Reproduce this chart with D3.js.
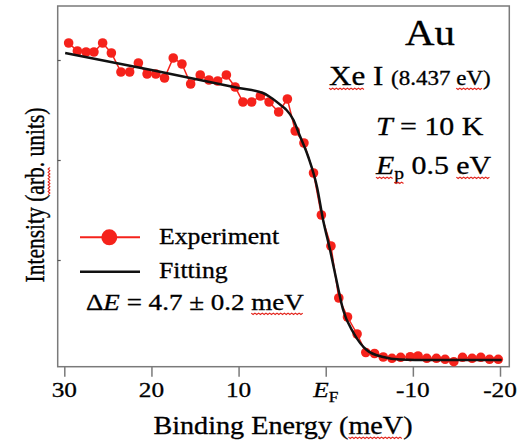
<!DOCTYPE html>
<html>
<head>
<meta charset="utf-8">
<script src="https://cdn.jsdelivr.net/npm/d3@7"></script>
<style>
  body { margin: 0; background: #fff; }
  svg text { font-family: "Liberation Serif", "Times New Roman", serif; fill: #000; stroke: #000; stroke-width: 0.3px; }
</style>
</head>
<body>
<svg id="chart" width="524" height="442"></svg>
<script>
// binding energy (meV) and intensity (arb. units)
var energy = [29.5, 28.5, 27.5, 26.6, 25.6, 24.6, 23.5, 22.5, 21.5, 20.5,
  19.5, 18.5, 17.5, 16.5, 15.5, 14.4, 13.4, 12.4, 11.4, 10.4,
  9.5, 8.5, 7.5, 6.5, 5.4, 4.4, 3.5, 2.5, 1.4, 0.5,
  -0.6, -1.5, -2.5, -3.6, -4.6, -5.6, -6.6, -7.6, -8.6, -9.7,
  -10.6, -11.6, -12.7, -13.7, -14.7, -15.7, -16.8, -17.8, -18.8, -19.8];
var intensity = [3.17, 3.09, 3.08, 3.08, 3.17, 3.07, 2.88, 2.88, 2.97, 2.86,
  2.86, 2.82, 3.02, 2.96, 2.76, 2.85, 2.80, 2.79, 2.85, 2.73,
  2.58, 2.58, 2.64, 2.58, 2.48, 2.61, 2.29, 2.17, 1.87, 1.45,
  1.14, 0.62, 0.43, 0.26, 0.075, 0.065, 0.03, 0.017, 0.027, 0.033,
  0.04, 0.017, 0.017, 0.007, -0.017, 0.027, 0.017, 0.027, 0.007, 0.007];

// fitted curve
var fitEnergy = [29.9, 20, 10, 7.2, 6.4, 4.9, 4.5, 3.7, 3.1, 2.0, 1.0, 0.3, -0.5, -1.3, -2.0, -3.2, -4.7, -6.6, -8.5, -12, -20.2];
var fitIntensity = [3.07, 2.90, 2.72, 2.67, 2.63, 2.53, 2.50, 2.40, 2.27, 2.03, 1.73, 1.40, 1.10, 0.77, 0.50, 0.27, 0.10, 0.03, 0.005, 0.0, 0.0];

var xTicks = [30, 20, 10, 0, -10, -20];
var yTicks = [1, 2, 3];

var svg = d3.select("#chart");
var red = "#f5221b";
var sx = 1.15; // the lettering in the picture is a bit wide

var x = d3.scaleLinear().domain([30, -20]).range([64.3, 500]);
var y = d3.scaleLinear().domain([0, 3]).range([360, 60]);

var frame = {left: 57.7, right: 509.3, top: 6, bottom: 366.7};

// text placed in its own group so it can be widened
function label(tx, ty, size, transform) {
  var g = svg.append("g")
    .attr("transform", transform || ("translate(" + tx + "," + ty + ") scale(" + sx + ",1)"));
  return g.append("text").style("font-size", size + "px");
}

// red squiggle under a tspan (spell-check marks in the original)
function squiggle(tspan) {
  var node = tspan.node();
  var n = node.getNumberOfChars();
  var a = node.getStartPositionOfChar(0), b = node.getEndPositionOfChar(n - 1);
  var yy = a.y + 3.5, pts = [];
  for (var xx = a.x, k = 0; xx <= b.x; xx += 1.6, k++) pts.push([xx, yy + (k % 2 ? 1 : -0.3)]);
  d3.select(node.parentNode.parentNode).append("path")
    .attr("d", d3.line()(pts))
    .attr("fill", "none")
    .attr("stroke", "#e3241c")
    .attr("stroke-width", 1);
}

//frame
svg.append("rect")
  .attr("x", frame.left).attr("y", frame.top)
  .attr("width", frame.right - frame.left)
  .attr("height", frame.bottom - frame.top)
  .attr("fill", "none")
  .attr("stroke", "#7a7a7a")
  .attr("stroke-width", 1.5);

//x axis, ticks hanging below the frame
var gx = svg.append("g")
  .attr("transform", "translate(0," + frame.bottom + ")")
  .call(d3.axisBottom(x).tickValues(xTicks).tickSize(10).tickFormat(""));
gx.select(".domain").remove();
gx.selectAll(".tick line").attr("stroke", "#7a7a7a").attr("stroke-width", 1.5);

xTicks.forEach(function(d) {
  var t = label(x(d), frame.bottom + 30, 22).attr("text-anchor", "middle");
  if (d == 0) {
    t.append("tspan").style("font-style", "italic").text("E");
    t.append("tspan").attr("dy", 5).style("font-size", "15px").text("F");
  } else {
    t.text(d < 0 ? "-" + Math.abs(d) : d);
  }
});

//y axis: small inner ticks only
var gy = svg.append("g")
  .attr("transform", "translate(" + frame.left + ",0)")
  .call(d3.axisRight(y).tickValues(yTicks).tickSize(3).tickFormat(""));
gy.select(".domain").remove();
gy.selectAll(".tick line").attr("stroke", "#555").attr("stroke-width", 1.2);

//experiment
var pts = energy.map(function(e, i) { return {e: e, v: intensity[i]}; });
var fit = fitEnergy.map(function(e, i) { return {e: e, v: fitIntensity[i]}; });

var line = d3.line()
  .x(function(d) { return x(d.e); })
  .y(function(d) { return y(d.v); });

svg.append("path")
  .datum(pts)
  .attr("d", line)
  .attr("fill", "none")
  .attr("stroke", red)
  .attr("stroke-width", 1.5);

svg.append("g").selectAll("circle")
  .data(pts)
  .enter().append("circle")
  .attr("cx", function(d) { return x(d.e); })
  .attr("cy", function(d) { return y(d.v); })
  .attr("r", 4.8)
  .attr("fill", red);

//fitting on top
svg.append("path")
  .datum(fit)
  .attr("d", line.curve(d3.curveMonotoneX))
  .attr("fill", "none")
  .attr("stroke", "#111")
  .attr("stroke-width", 2.5);

//axis titles
var xl = label(283, 434, 24.5).attr("text-anchor", "middle");
xl.append("tspan").text("Binding Energy (");
var s1 = xl.append("tspan").text("meV");
xl.append("tspan").text(")");
squiggle(s1);

var yl = label(0, 0, 21.5, "translate(44,195) scale(1.3,1) rotate(-90)").attr("text-anchor", "middle");
yl.append("tspan").text("Intensity (");
var s2 = yl.append("tspan").text("arb");
yl.append("tspan").text(". units)");
squiggle(s2);

//annotations
label(430, 45, 35.5).attr("text-anchor", "middle").text("Au");

var xe = label(329, 85, 27);
var s3 = xe.append("tspan").text("Xe");
xe.append("tspan").text(" I ");
xe.append("tspan").style("font-size", "20px").text("(8.437 ");
var s4 = xe.append("tspan").style("font-size", "20px").text("eV");
xe.append("tspan").style("font-size", "20px").text(")");
squiggle(s3); squiggle(s4);

var tt = label(376, 135, 26);
tt.append("tspan").style("font-style", "italic").text("T");
tt.append("tspan").text(" = 10 K");

var ep = label(376, 174, 26);
var s5 = ep.append("tspan").style("font-style", "italic").text("E");
var s6 = ep.append("tspan").attr("dy", 5).style("font-size", "17px").text("p");
ep.append("tspan").attr("dy", -5).text(" 0.5 ");
var s7 = ep.append("tspan").text("eV");
squiggle(s5); squiggle(s6); squiggle(s7);

//legend
var lg = svg.append("g");
lg.append("line").attr("x1", 80).attr("x2", 140).attr("y1", 237.3).attr("y2", 237.3)
  .attr("stroke", red).attr("stroke-width", 2);
lg.append("circle").attr("cx", 109.3).attr("cy", 237.3).attr("r", 8).attr("fill", red);
label(159, 243.5, 22.4).text("Experiment");
lg.append("line").attr("x1", 80).attr("x2", 140).attr("y1", 271.7).attr("y2", 271.7)
  .attr("stroke", "#111").attr("stroke-width", 2.5);
label(159, 278, 22.4).text("Fitting");

var de = label(86, 310, 23.5);
de.append("tspan").text("\u0394");
de.append("tspan").style("font-style", "italic").text("E");
de.append("tspan").text(" = 4.7 \u00b1 0.2 ");
var s8 = de.append("tspan").text("meV");
squiggle(s8);
</script>
</body>
</html>
